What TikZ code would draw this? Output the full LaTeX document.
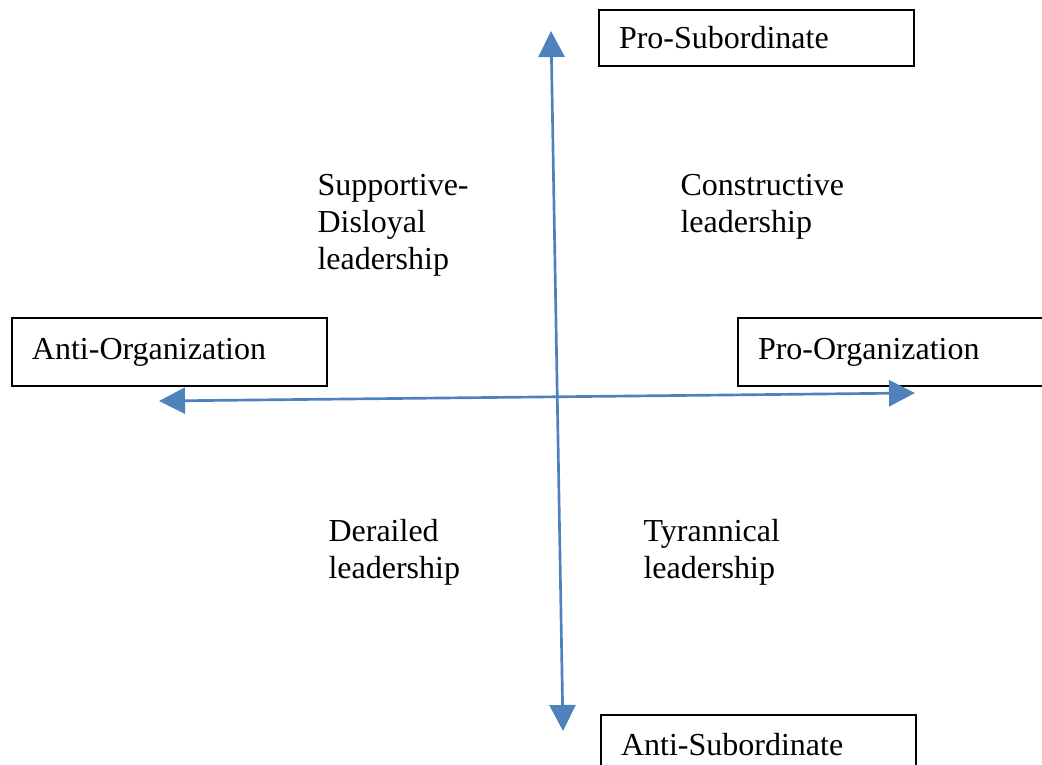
\documentclass[tikz,border=0pt]{standalone}
\usepackage{fontspec}
\setmainfont{Liberation Serif}
\usetikzlibrary{arrows.meta}
\definecolor{axisblue}{RGB}{79,129,189}

\begin{document}
\begin{tikzpicture} [x=0.375pt, y=-0.375pt, >={Triangle[width=9.75pt, length=9.75pt]},
	axis/.style={line width=1pt, axisblue},
	endbox/.style={draw, line width=0.75pt, anchor=north west, align=left, minimum width=118pt, text width=103pt, inner xsep=7.5pt, font=\fontsize{12}{14}\selectfont},
	quadrant/.style={anchor=north west, align=left, inner sep=0pt, font=\fontsize{12}{13.8}\selectfont}]
	\useasboundingbox (0,0) rectangle (1042,765);
	%%%	Boxes
	\node[endbox, minimum height=21pt] (prosub) at (598,9) {Pro-Subordinate};
	\node[endbox, minimum height=25.5pt] (antiorg) at (11,317) {Anti-Organization};
	\node[endbox, minimum height=25.5pt] (proorg) at (737,317) {Pro-Organization};
	\node[endbox, minimum height=22.5pt] (antisub) at (600,714) {Anti-Subordinate};
	%%%	Axes
	\coordinate (subtop) at (551,31);
	\coordinate (subbottom) at (563,731);
	\coordinate (orgleft) at (159,401);
	\coordinate (orgright) at (915,393);
	\draw[axis, <->] (subbottom) -- (subtop);
	\draw[axis, <->] (orgleft) -- (orgright);
	%%%	Quadrants
	\node[quadrant] (supdis) at (317,174) {Supportive-\\Disloyal\\leadership};
	\node[quadrant] (constr) at (680,174) {Constructive\\leadership};
	\node[quadrant] (derail) at (328,519) {Derailed\\leadership};
	\node[quadrant] (tyrann) at (643,519) {Tyrannical\\leadership};
\end{tikzpicture}
\end{document}
